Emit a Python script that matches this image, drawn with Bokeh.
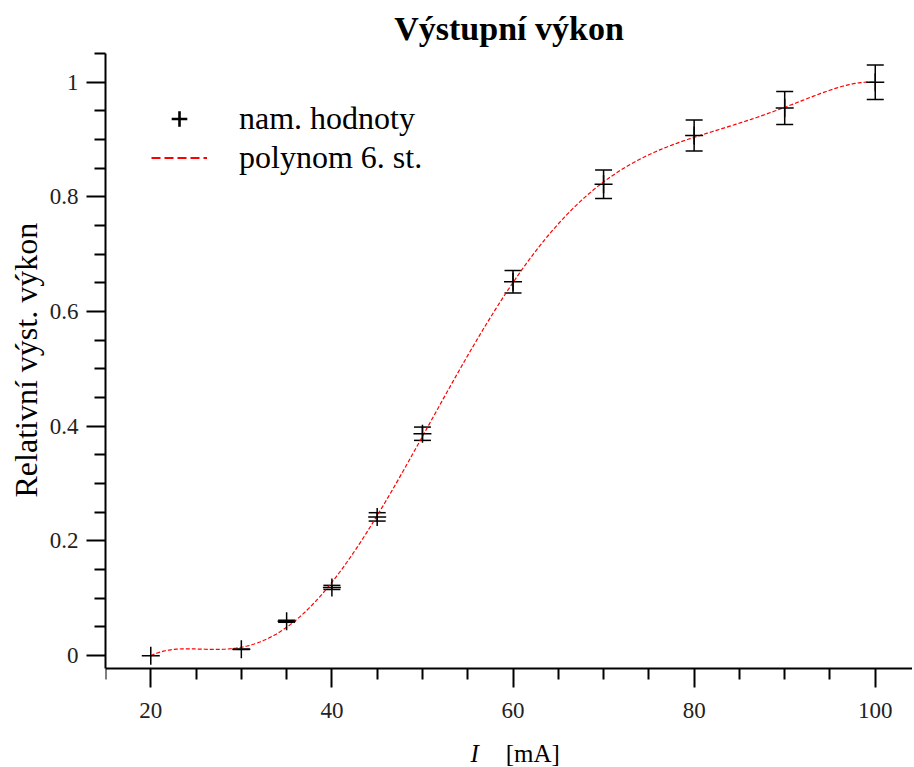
import numpy as np
from bokeh.plotting import figure
from bokeh.models import (ColumnDataSource, Whisker, TeeHead, FixedTicker, Title,
                          CustomJSTickFormatter, Legend, LegendItem, Label, Range1d)
from bokeh.embed import file_html
from bokeh.resources import INLINE

# ---- data ----
current_mA = [20, 30, 35, 40, 45, 50, 60, 70, 80, 90, 100]
rel_power = [0.0, 0.011, 0.060, 0.119, 0.242, 0.387, 0.652, 0.822, 0.907, 0.955, 1.0]
rel_power_err = [0.0, 0.0003, 0.0018, 0.0036, 0.0073, 0.0116, 0.0196, 0.0247, 0.0272, 0.0287, 0.030]
poly_degree = 6

title_text = "Výstupní výkon"
y_label = "Relativní výst. výkon"
x_label_var = "I"
x_label_unit = "[mA]"
legend_labels = ["nam. hodnoty", "polynom 6. st."]

x_major_ticks = [20, 40, 60, 80, 100]
x_minor_ticks = [15, 25, 30, 35, 45, 50, 55, 65, 70, 75, 85, 90, 95]
y_major_ticks = [0, 0.2, 0.4, 0.6, 0.8, 1.0]
y_minor_ticks = [0.05, 0.1, 0.15, 0.25, 0.3, 0.35, 0.45, 0.5, 0.55,
                 0.65, 0.7, 0.75, 0.85, 0.9, 0.95, 1.05]
x_start = 15
y_axis_floor = -0.0226
y_top = 1.05

FONT = "Liberation Serif"

# ---- polynomial fit of the measured points ----
coef = np.polyfit(current_mA, rel_power, poly_degree)
fit_x = np.linspace(min(current_mA), max(current_mA), 400)
fit_y = np.polyval(coef, fit_x)

pts = ColumnDataSource(dict(x=current_mA, y=rel_power))
err_idx = [i for i, e in enumerate(rel_power_err) if e > 0]
errs = ColumnDataSource(dict(
    x=[current_mA[i] for i in err_idx],
    upper=[rel_power[i] + rel_power_err[i] for i in err_idx],
    lower=[rel_power[i] - rel_power_err[i] for i in err_idx],
))
fit = ColumnDataSource(dict(x=fit_x, y=fit_y))

# ---- layout ----
W, H = 912, 766
BL, BR, BT, BB = 105, 0, 52, 0
px_per_x = 9.056
px_per_y = 574.3
x_end = x_start + (W - BL - BR) / px_per_x
y_bot = y_top - (H - BT - BB) / px_per_y

p = figure(width=W, height=H, x_range=Range1d(x_start, x_end), y_range=Range1d(y_bot, y_top),
           output_backend="svg", toolbar_location=None,
           min_border_left=BL, min_border_right=BR, min_border_top=BT, min_border_bottom=BB,
           background_fill_color="white", border_fill_color="white")
p.outline_line_color = None
p.xgrid.visible = False
p.ygrid.visible = False

p.title.text = title_text
p.title.text_font = FONT
p.title.text_font_size = "34px"
p.title.text_font_style = "bold"
p.title.text_color = "black"
p.title.align = "center"
p.title.vertical_align = "bottom"
p.title.standoff = 14

for ax in (p.xaxis[0], p.yaxis[0]):
    ax.axis_line_width = 2
    ax.axis_line_color = "black"
    ax.major_tick_line_width = 2
    ax.minor_tick_line_width = 2
    ax.major_tick_line_color = "black"
    ax.minor_tick_line_color = "black"
    ax.major_tick_in = 0
    ax.major_tick_out = 19
    ax.minor_tick_in = 0
    ax.minor_tick_out = 11
    ax.major_label_text_font = FONT
    ax.major_label_text_font_size = "23px"
    ax.major_label_text_color = "#222222"

p.xaxis.ticker = FixedTicker(ticks=x_major_ticks, minor_ticks=x_minor_ticks)
p.yaxis.ticker = FixedTicker(ticks=y_major_ticks, minor_ticks=y_minor_ticks)
p.yaxis.formatter = CustomJSTickFormatter(code="return String(Math.round(tick*10)/10);")
p.xaxis.major_label_standoff = 15
p.yaxis.major_label_standoff = 8
p.xaxis.fixed_location = y_axis_floor
p.yaxis.bounds = (y_axis_floor, y_top)

# y axis label (as a side title so that it can be placed along the axis)
ylab = Title(text=y_label, align="left", offset=269, vertical_align="bottom", standoff=6,
             text_font=FONT, text_font_size="32px", text_font_style="normal",
             text_color="black")
p.add_layout(ylab, "left")

# x axis label with italic variable
x_lab_base = -(753 - 655) / px_per_y
p.add_layout(Label(x=55.3, y=x_lab_base, text=x_label_var, text_font=FONT, text_font_size="25px",
                   text_font_style="italic", text_color="black", text_baseline="alphabetic"))
p.add_layout(Label(x=59.2, y=x_lab_base, text=x_label_unit, text_font=FONT, text_font_size="25px",
                   text_color="black", text_baseline="alphabetic"))

# fit curve
p.line("x", "y", source=fit, line_color="#ff0000", line_width=1.2, line_dash="4 2")

# error bars
wh = Whisker(base="x", upper="upper", lower="lower", source=errs,
             line_color="black", line_width=1.5,
             upper_head=TeeHead(size=17, line_color="black", line_width=1.5),
             lower_head=TeeHead(size=17, line_color="black", line_width=1.5))
p.add_layout(wh)

# measured points
p.scatter("x", "y", source=pts, marker="cross", size=18, line_color="black", line_width=1.5)

# hidden renderers that only give the legend its own styling
leg_pt = p.scatter("x", "y", source=pts, marker="cross", line_color="black", line_width=2.6,
                   visible=False)
leg_ln = p.line("x", "y", source=fit, line_color="#ff0000", line_width=2, line_dash="9 4",
                visible=False)

legend = Legend(items=[LegendItem(label=legend_labels[0], renderers=[leg_pt]),
                       LegendItem(label=legend_labels[1], renderers=[leg_ln])],
                location="top_left", margin=46, padding=10, spacing=0,
                glyph_width=56, glyph_height=39, label_standoff=32,
                label_text_font=FONT, label_text_font_size="32px", label_text_color="black",
                border_line_color=None, background_fill_alpha=0)
p.add_layout(legend)

open("out.html", "w").write(file_html(p, INLINE))
